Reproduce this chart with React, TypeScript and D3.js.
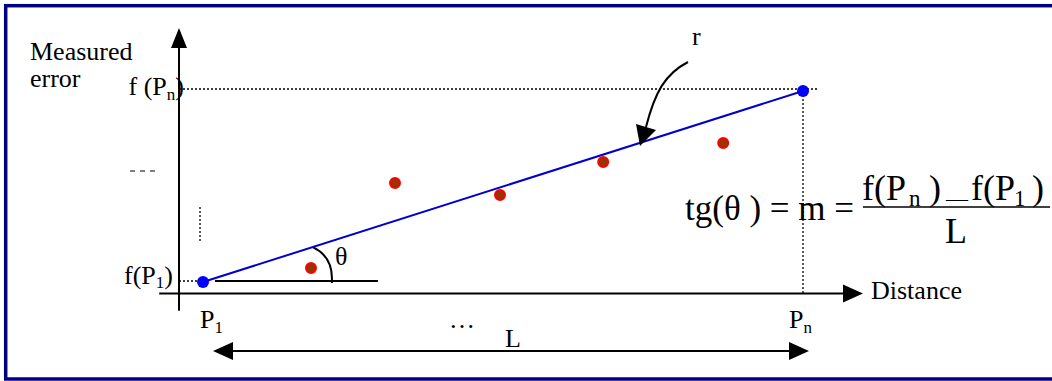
import React from "react";
import * as d3 from "d3";

// distance units: P1 = 0, Pn = 10 ; error units: f(P1) = 0, f(Pn) = 10
const endX = [0, 10];
const endY = [0, 10];
const measuredX = [1.8, 3.2, 4.95, 6.67, 8.67];
const measuredY = [0.73, 5.18, 4.55, 6.28, 7.28];
const xAxisDomain = [-0.73, 11.0];
const yAxisDomain = [-1.5, 13.3];
const originX = -0.4;
const originY = -0.6;

const W = 1052;
const H = 381;
const FONT = "'Liberation Serif', 'Times New Roman', serif";

const x = d3.scaleLinear().domain([0, 10]).range([203, 803]);
const y = d3.scaleLinear().domain([0, 10]).range([282, 91]);

const App = () => {
  const ax = x(originX);
  const ay = y(originY);
  const xEnd = x(xAxisDomain[1]);
  const yTop = y(yAxisDomain[1]);
  const fitLine = d3.line<number>().x((d) => x(endX[d])).y((d) => y(endY[d]));

  // theta mark: from the fit line down to the reference line
  const p1 = [x(endX[0]), y(endY[0])];
  const t = 0.183;
  const sx = p1[0] + t * (x(endX[1]) - p1[0]);
  const sy = p1[1] + t * (y(endY[1]) - p1[1]);
  const th = d3.path();
  th.moveTo(sx, sy);
  th.quadraticCurveTo(sx + 21, sy + 10, sx + 19, 283);

  return (
    <svg
      width={W}
      height={H}
      style={{ position: "absolute", left: 0, top: 0, background: "white" }}
      fontFamily={FONT}
    >
      <rect x={5.7} y={5.7} width={1070} height={373.3} fill="white" stroke="#000080" strokeWidth={3.5} />

      {/* guides */}
      <line x1={ax} x2={818} y1={y(10) - 2} y2={y(10) - 2} stroke="black" strokeWidth={1.3} strokeDasharray="2,2" />
      <line x1={x(10)} x2={x(10)} y1={y(10)} y2={ay} stroke="black" strokeWidth={1.3} strokeDasharray="2,2" />
      <line x1={ax} x2={p1[0] - 3} y1={281} y2={281} stroke="black" strokeWidth={1.3} strokeDasharray="2,2" />
      <line x1={200} x2={200} y1={207} y2={242} stroke="black" strokeWidth={1.3} strokeDasharray="2,2" />
      <line x1={130} x2={158} y1={171} y2={171} stroke="black" strokeWidth={1} strokeDasharray="5,5" />

      {/* axes */}
      <line x1={ax} x2={ax} y1={y(yAxisDomain[0])} y2={yTop + 14} stroke="black" strokeWidth={2} />
      <path d={`M${ax},${yTop} L${ax - 8},${yTop + 20} L${ax + 8},${yTop + 20} Z`} fill="black" />
      <line x1={x(xAxisDomain[0])} x2={xEnd - 14} y1={ay} y2={ay} stroke="black" strokeWidth={2} />
      <path d={`M${xEnd},${ay} L${xEnd - 20},${ay - 9} L${xEnd - 20},${ay + 9} Z`} fill="black" />

      {/* reference line + theta */}
      <line x1={215} x2={378} y1={281} y2={281} stroke="black" strokeWidth={2} />
      <path d={th.toString()} fill="none" stroke="black" strokeWidth={2} />
      <text x={335} y={265} fontSize={26}>θ</text>

      {/* regression line */}
      <path d={fitLine([0, 1]) as string} stroke="#0000cc" strokeWidth={2} fill="none" />
      {measuredX.map((mx, i) => (
        <circle key={i} cx={x(mx)} cy={y(measuredY[i])} r={5} fill="#993300" stroke="#ff0000" strokeWidth={2} />
      ))}
      {endX.map((ex, i) => (
        <circle key={i} cx={x(ex)} cy={y(endY[i])} r={6} fill="#0000ff" />
      ))}

      {/* r arrow */}
      <path d="M688,62 C665,74 655,92 646,127" fill="none" stroke="black" strokeWidth={2} />
      <path d="M640,146 L636,124 L656,130 Z" fill="black" />
      <text x={692} y={45} fontSize={26}>r</text>

      {/* labels */}
      <text x={30} y={60} fontSize={26}>Measured</text>
      <text x={30} y={87} fontSize={26}>error</text>
      <text x={184} y={95} fontSize={26} textAnchor="end">
        f (P<tspan fontSize={17} dy={5}>n</tspan><tspan dy={-5}>)</tspan>
      </text>
      <text x={173} y={284} fontSize={26} textAnchor="end">
        f(P<tspan fontSize={17} dy={4}>1</tspan><tspan dy={-4}>)</tspan>
      </text>
      <text x={871} y={299} fontSize={26}>Distance</text>
      <text x={200} y={328} fontSize={26}>
        P<tspan fontSize={17} dy={5}>1</tspan>
      </text>
      <text x={789} y={328} fontSize={26}>
        P<tspan fontSize={17} dy={5}>n</tspan>
      </text>
      <text x={449} y={328} fontSize={26}>…</text>
      <text x={505} y={347} fontSize={26}>L</text>

      {/* L double arrow */}
      <line x1={230} x2={792} y1={351} y2={351} stroke="black" strokeWidth={2} />
      <path d="M213,351 L233,342 L233,360 Z" fill="black" />
      <path d="M809,351 L789,342 L789,360 Z" fill="black" />

      {/* formula */}
      <text x={685} y={220} fontSize={35}>tg(θ ) = m =</text>
      <text y={200} fontSize={36}>
        <tspan x={862}>f(P</tspan>
        <tspan x={909} fontSize={23} dy={6}>n</tspan>
        <tspan x={929} dy={-6}>)</tspan>
        <tspan x={946} fontSize={22} dy={6}>—</tspan>
        <tspan x={971} dy={-6}>f(P</tspan>
        <tspan x={1014} fontSize={23} dy={6}>1</tspan>
        <tspan x={1032} dy={-6}>)</tspan>
      </text>
      <line x1={863} x2={1050} y1={207} y2={207} stroke="black" strokeWidth={1.6} />
      <text x={956} y={243} fontSize={36} textAnchor="middle">L</text>
    </svg>
  );
};

export default App;
